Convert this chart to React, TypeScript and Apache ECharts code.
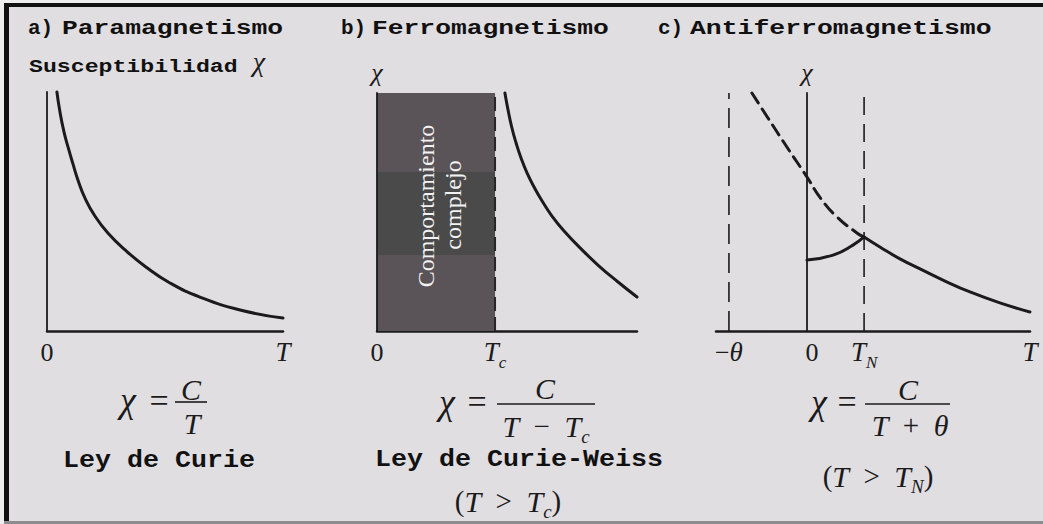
import { useEffect, useRef } from "react";
import * as echarts from "echarts";

// a) Paramagnetism: Curie law curve
const curieT = [0.42, 0.55, 0.72, 0.89, 1.1, 1.31, 1.61, 2.03, 2.58, 3.31, 4.19, 5.21, 6.48, 8.18, 10];
const curieChi = [10, 9.16, 8.33, 7.7, 6.99, 6.32, 5.56, 4.81, 4.1, 3.39, 2.68, 2.01, 1.42, 0.88, 0.54];

// b) Ferromagnetism: Curie-Weiss curve above Tc
const tc = 4.54;
const weissT = [4.92, 5.04, 5.19, 5.35, 5.54, 5.77, 6.04, 6.35, 6.73, 7.23, 7.85, 8.54, 9.27, 10];
const weissChi = [10, 9.29, 8.53, 7.9, 7.27, 6.64, 6.05, 5.46, 4.83, 4.16, 3.45, 2.73, 2.06, 1.43];
// shaded "complex behaviour" region split into bands (chi values)
const bandEdges = [0, 3.19, 6.68, 10];
const bandColors = ["#5a5357", "#4b4a4b", "#5a5357"];

// c) Antiferromagnetism
const theta = 3.5;
const tn = 2.56;
const afmExtrapT = [-2.47, -1.75, -0.9, 0, 0.63, 1.35, 2.24, 2.56];
const afmExtrapChi = [10, 8.95, 7.73, 6.47, 5.55, 4.79, 4.12, 3.95];
const afmBelowT = [0, 1.17, 2.06, 2.56];
const afmBelowChi = [2.98, 3.19, 3.61, 3.95];
const afmAboveT = [2.56, 3.27, 4.17, 5.07, 6.19, 7.31, 8.65, 10];
const afmAboveChi = [3.95, 3.53, 3.03, 2.61, 2.1, 1.64, 1.18, 0.8];

// tick positions and their labels
const ticksA = [0, 10];
const tickLabelsA = ["{n|0}", "{i|T}"];
const ticksB = [0, tc];
const tickLabelsB = ["{n|0}", "{i|T}{s|c}"];
const ticksC = [-theta, 0, tn, 10];
const tickLabelsC = ["{n|−}{i|θ}", "{z|0}", "{i|T}{s|N}", "{i|T}"];

const MONO = '"Liberation Mono", "DejaVu Sans Mono", monospace';
const SERIF = '"Liberation Serif", "DejaVu Serif", serif';
const INK = "#1b1b1b";

const pairs = (xs: number[], ys: number[]) => xs.map((x, i) => [x, ys[i]]);

// rich styles for axis tick labels
const rich = {
  n: { fontFamily: SERIF, fontSize: 26, lineHeight: 30, color: INK },
  i: { fontFamily: SERIF, fontSize: 27, fontStyle: "italic", lineHeight: 30, color: INK },
  s: { fontFamily: SERIF, fontSize: 17, fontStyle: "italic", lineHeight: 30, padding: [20, 0, 0, 0], color: INK },
  z: { fontFamily: SERIF, fontSize: 26, lineHeight: 30, padding: [0, 0, 0, 10], color: INK },
};

// rich styles for the formulas
const richF = {
  n: { fontFamily: SERIF, fontSize: 29, lineHeight: 34, color: INK },
  i: { fontFamily: SERIF, fontSize: 30, fontStyle: "italic", lineHeight: 34, color: INK },
  s: { fontFamily: SERIF, fontSize: 19, fontStyle: "italic", lineHeight: 34, padding: [20, 0, 0, 0], color: INK },
};

function xAxisFor(grid: number, min: number, max: number, ticks: number[], labels: string[]) {
  return {
    type: "value",
    gridIndex: grid,
    min,
    max,
    axisLine: { show: true, lineStyle: { color: INK, width: 2.5 } },
    axisTick: { show: false },
    splitLine: { show: false },
    axisLabel: {
      show: true,
      customValues: ticks,
      margin: 6,
      formatter: (v: number) => {
        const k = ticks.findIndex((t) => Math.abs(t - v) < 1e-6);
        return k >= 0 ? labels[k] : "";
      },
      rich,
    },
  };
}

function yAxisFor(grid: number, name: string) {
  return {
    type: "value",
    gridIndex: grid,
    min: 0,
    max: 10,
    z: 5,
    name,
    nameLocation: "end",
    nameGap: 8,
    nameTextStyle: { fontFamily: SERIF, fontStyle: "italic", fontSize: 26, color: INK },
    axisLine: { show: true, onZero: true, lineStyle: { color: INK, width: 1.8 } },
    axisTick: { show: false },
    axisLabel: { show: false },
    splitLine: { show: false },
  };
}

function txt(x: number, y: number, text: string, opts: any = {}) {
  const { scaleX, rotation, ...style } = opts;
  return {
    type: "text",
    x,
    y,
    z: 100,
    scaleX: scaleX ?? 1,
    rotation: rotation ?? 0,
    silent: true,
    style: {
      text,
      fill: INK,
      align: "center",
      textAlign: "center",
      verticalAlign: "middle",
      textVerticalAlign: "middle",
      ...style,
    },
  };
}

const title = (x: number, y: number, text: string, size: number, sx: number) =>
  txt(x, y, text, {
    fontFamily: MONO,
    fontWeight: "bold",
    fontSize: size,
    align: "left",
    textAlign: "left",
    fill: "#111",
    scaleX: sx,
  });

const math = (x: number, y: number, text: string, size = 30, italic = true) =>
  txt(x, y, text, { fontFamily: SERIF, fontSize: size, fontStyle: italic ? "italic" : "normal", rich: richF });

const fracLine = (x1: number, x2: number, y: number) => ({
  type: "line",
  silent: true,
  z: 100,
  shape: { x1, y1: y, x2, y2: y },
  style: { stroke: INK, lineWidth: 1.6 },
});

export default function App() {
  const ref = useRef<HTMLDivElement>(null);

  useEffect(() => {
    if (!ref.current) return;
    const chart = echarts.init(ref.current, null, { renderer: "svg" });

    const curve = (xi: number, data: number[][], dashed = false) => ({
      type: "line",
      xAxisIndex: xi,
      yAxisIndex: xi,
      data,
      smooth: 0.5,
      symbol: "none",
      silent: true,
      clip: false,
      lineStyle: { color: INK, width: 3, type: dashed ? [12, 7] : "solid", cap: "round" },
    });

    const guide = (xi: number, x: number, dash: number[], color = INK, width = 1.6) => ({
      type: "line",
      xAxisIndex: xi,
      yAxisIndex: xi,
      data: [
        [x, 0],
        [x, 10],
      ],
      symbol: "none",
      silent: true,
      z: 4,
      lineStyle: { color, width, type: dash },
    });

    const bands = bandColors.map((c, k) => [
      { xAxis: 0, yAxis: bandEdges[k], itemStyle: { color: c, opacity: 1 } },
      { xAxis: tc, yAxis: bandEdges[k + 1] },
    ]);

    const option: any = {
      animation: false,
      backgroundColor: "#e1dee2",
      grid: [
        { left: 47, top: 92, width: 236, height: 239 },
        { left: 377, top: 93, width: 260, height: 238 },
        { left: 716, top: 93, width: 314, height: 238 },
      ],
      xAxis: [
        xAxisFor(0, 0, 10, ticksA, tickLabelsA),
        xAxisFor(1, 0, 10, ticksB, tickLabelsB),
        xAxisFor(2, -4.08, 10, ticksC, tickLabelsC),
      ],
      yAxis: [yAxisFor(0, ""), yAxisFor(1, "χ"), yAxisFor(2, "χ")],
      series: [
        curve(0, pairs(curieT, curieChi)),
        {
          ...guide(1, tc, [14, 6], "#262626", 2),
          markArea: { silent: true, z: 1, data: bands, label: { show: false } },
        },
        curve(1, pairs(weissT, weissChi)),
        guide(2, -theta, [20, 9]),
        guide(2, tn, [18, 9]),
        curve(2, pairs(afmExtrapT, afmExtrapChi), true),
        curve(2, pairs(afmBelowT, afmBelowChi)),
        curve(2, pairs(afmAboveT, afmAboveChi)),
      ],
      graphic: [
        // frame
        { type: "rect", silent: true, shape: { x: 0, y: 0, width: 1043, height: 3 }, style: { fill: "#eeeeee" } },
        { type: "rect", silent: true, shape: { x: 0, y: 0, width: 4, height: 524 }, style: { fill: "#eeeeee" } },
        { type: "rect", silent: true, shape: { x: 4, y: 3, width: 1039, height: 4 }, style: { fill: "#111" } },
        { type: "rect", silent: true, shape: { x: 4, y: 3, width: 5, height: 521 }, style: { fill: "#111" } },
        { type: "rect", silent: true, shape: { x: 4, y: 521, width: 1039, height: 3 }, style: { fill: "#8e8c8f" } },

        // panel titles
        title(28, 28, "a)", 21, 1),
        title(62, 28, "Paramagnetismo", 21, 1.254),
        title(341, 28, "b)", 21, 1),
        title(372, 28, "Ferromagnetismo", 21, 1.254),
        title(658, 28, "c)", 21, 1),
        title(690, 28, "Antiferromagnetismo", 21, 1.26),
        title(29, 67, "Susceptibilidad", 19, 1.22),
        math(259, 61, "χ", 28),

        // shaded region caption
        txt(426, 206, "Comportamiento", { fontFamily: SERIF, fontSize: 24, fill: "#f2f2f2", rotation: Math.PI / 2 }),
        txt(453, 205, "complejo", { fontFamily: SERIF, fontSize: 24, fill: "#f2f2f2", rotation: Math.PI / 2 }),

        // a) chi = C / T
        math(128, 400, "χ", 36),
        math(159, 400, "=", 34, false),
        math(191, 389, "C"),
        fracLine(175, 207, 402),
        math(192, 423, "T"),
        title(63, 461, "Ley de Curie", 23, 1.16),

        // b) chi = C / (T - Tc)
        math(447, 402, "χ", 36),
        math(477, 401, "=", 34, false),
        math(545, 388, "C"),
        fracLine(497, 595, 404),
        math(546, 426, "{i|T}{n|  −  }{i|T}{s|c}"),
        title(375, 460, "Ley de Curie-Weiss", 23, 1.16),
        math(508, 501, "{n|(}{i|T}{n|  >  }{i|T}{s|c}{n|)}"),

        // c) chi = C / (T + theta)
        math(819, 402, "χ", 36),
        math(847, 401, "=", 34, false),
        math(908, 389, "C"),
        fracLine(865, 950, 404),
        math(910, 425, "{i|T}{n|  +  }{i|θ}"),
        math(878, 476, "{n|(}{i|T}{n|  >  }{i|T}{s|N}{n|)}"),
      ],
    };

    chart.setOption(option);
    return () => chart.dispose();
  }, []);

  return (
    <div
      ref={ref}
      style={{ position: "fixed", left: 0, top: 0, width: 1043, height: 524 }}
    />
  );
}
